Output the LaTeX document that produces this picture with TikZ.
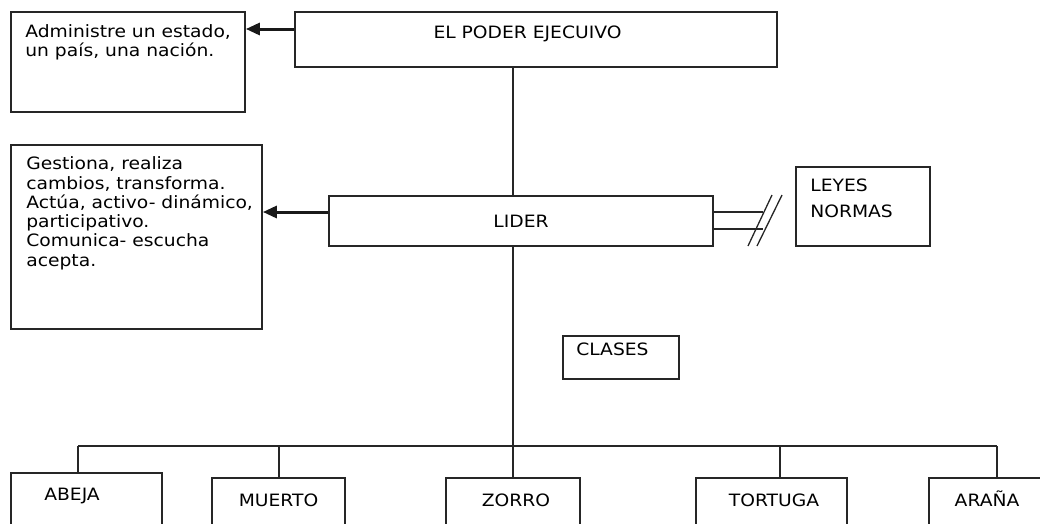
\documentclass[tikz,border=0pt]{standalone}
\usepackage{fontspec}
\setmainfont[FakeStretch=1.1]{DejaVu Sans}
\usepackage{tikz}
\usetikzlibrary{arrows.meta, positioning}
\tikzset{>={Triangle[length=14pt, width=12pt]}}

\begin{document}
\begin{tikzpicture}[
  x=1pt, y=-1pt,
  boxstyle/.style={draw=black!85, line width=1.7pt, inner sep=0pt, font=\fontsize{17}{19.2}\selectfont, text=black},
  textstyle/.style={inner sep=0pt, align=left, font=\fontsize{17}{19.2}\selectfont, text=black},
  linkstyle/.style={draw=black!85, line width=1.8pt},
  breakstyle/.style={draw=black!85, line width=1.3pt},
  pointer/.style={->, line width=3pt, black!90}
]
\useasboundingbox (0,0) rectangle (1040,523);
\clip (0,0) rectangle (1040,523);

% Top level
\node[boxstyle, minimum width=482pt, minimum height=55pt] (ejec) at (536,39.5) {};
\node[textstyle, anchor=base] (ejectxt) at ([xshift=-8.5pt, yshift=-27pt]ejec.north) {EL PODER EJECUIVO};

\node[boxstyle, minimum width=234pt, minimum height=100pt] (admin) at (128,62) {};
\node[textstyle, below right=13.5pt and 15pt of admin.north west, font=\fontsize{17}{18.4}\selectfont] (admintxt) {Administre un estado,\\un país, una nación.};

\draw[pointer] (ejec.west |- 0,29) -- (admin.east |- 0,29);

% Leader
\node[boxstyle, minimum width=384pt, minimum height=50pt] (lider) at (521,221) {LIDER};

\node[boxstyle, minimum width=251pt, minimum height=184pt] (gest) at (136.5,237) {};
\node[textstyle, below right=12.5pt and 16pt of gest.north west, font=\fontsize{17}{19.3}\selectfont] (gesttxt) {Gestiona, realiza\\cambios, transforma.\\Actúa, activo- dinámico,\\participativo.\\Comunica- escucha\\acepta.};

\draw[pointer] (lider.west |- 0,212) -- (gest.east |- 0,212);

% Laws (broken link)
\node[boxstyle, minimum width=134pt, minimum height=79pt] (leyes) at (863,206.5) {};
\node[textstyle, below right=13pt and 15pt of leyes.north west] (leyestxt) {LEYES\\[6.5pt]NORMAS};

\coordinate (cut) at (763,221);
\draw[linkstyle] ([yshift=9pt]lider.east) -- ([yshift=9pt]lider.east -| cut);
\draw[linkstyle] ([yshift=-8pt]lider.east) -- ([yshift=-8pt]lider.east -| cut);
\draw[breakstyle] ([shift={(-15,25)}]cut) -- ([shift={(9,-26)}]cut);
\draw[breakstyle] ([shift={(-6,25)}]cut) -- ([shift={(19,-26)}]cut);

% Classes
\node[boxstyle, minimum width=116pt, minimum height=43pt] (clases) at (621,357.5) {};
\node[textstyle, below right=8pt and 14pt of clases.north west] (clasestxt) {CLASES};

% Bottom row
\node[boxstyle, minimum width=151pt, minimum height=100pt] (abeja) at (86.5,523) {};
\node[boxstyle, minimum width=133pt, minimum height=100pt] (muerto) at (278.5,528) {};
\node[boxstyle, minimum width=134pt, minimum height=100pt] (zorro) at (513,528) {};
\node[boxstyle, minimum width=151pt, minimum height=100pt] (tortuga) at (771.5,528) {};
\node[boxstyle, minimum width=150pt, minimum height=100pt] (arana) at (1004,528) {};

\node[textstyle, anchor=base west] (abejatxt) at ([xshift=34pt, yshift=-28pt]abeja.north west) {ABEJA};
\node[textstyle, anchor=base] (muertotxt) at ([yshift=-29pt]muerto.north) {MUERTO};
\node[textstyle, anchor=base] (zorrotxt) at ([xshift=3pt, yshift=-29pt]zorro.north) {ZORRO};
\node[textstyle, anchor=base] (tortugatxt) at ([xshift=2.5pt, yshift=-29pt]tortuga.north) {TORTUGA};
\node[textstyle, anchor=base] (aranatxt) at ([xshift=-17pt, yshift=-29pt]arana.north) {ARAÑA};

% Trunk and branches
\coordinate (hub) at (513,446);
\coordinate (barL) at (78,446);
\coordinate (barR) at (997,446);
\draw[linkstyle] (ejec.south -| hub) -- (lider.north -| hub);
\draw[linkstyle] (lider.south -| hub) -- (zorro.north -| hub);
\draw[linkstyle] (barL) -- (barR);
\draw[linkstyle] (barL) -- (abeja.north -| barL);
\draw[linkstyle] ([xshift=0.5pt]muerto.north |- hub) -- ([xshift=0.5pt]muerto.north);
\draw[linkstyle] ([xshift=8.5pt]tortuga.north |- hub) -- ([xshift=8.5pt]tortuga.north);
\draw[linkstyle] (barR) -- (arana.north -| barR);

\end{tikzpicture}
\end{document}
